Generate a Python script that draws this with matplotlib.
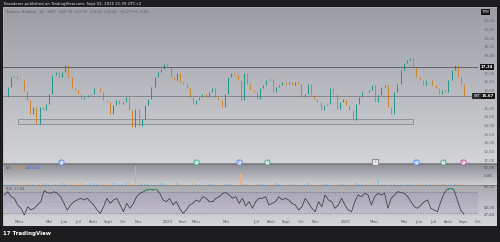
import matplotlib.pyplot as plt
import matplotlib.dates as mdates
import matplotlib.transforms as mtrans
import numpy as np
import pandas as pd
from matplotlib.patches import Rectangle

# weekly closes (TRY)
close = [15.64, 16.20, 16.78, 16.82, 16.69, 16.59, 16.00, 15.44, 14.68, 15.06,
         14.10, 15.06, 14.87, 15.25, 15.83, 16.88, 17.07, 16.78, 17.07, 17.45,
         16.78, 16.12, 16.02, 15.83, 15.54, 15.64, 15.73, 15.83, 16.12, 16.12,
         15.92, 15.44, 15.35, 14.68, 15.16, 15.44, 15.25, 15.35, 15.64, 14.87,
         13.92, 14.97, 13.95, 14.39, 15.16, 15.54, 16.21, 16.78, 17.07, 17.26,
         17.51, 17.36, 16.78, 16.59, 16.98, 16.50, 16.40, 16.12, 15.64, 15.25,
         15.44, 15.64, 15.83, 15.64, 15.92, 16.12, 15.64, 15.44, 15.06, 15.83,
         16.78, 16.98, 16.88, 16.59, 15.44, 16.98, 16.40, 16.02,
         15.92, 15.54, 16.12, 16.31, 16.59, 16.69, 15.92, 16.21, 16.31, 16.50,
         16.40, 16.50, 16.31, 16.50, 16.40, 15.64, 15.83, 16.40, 15.73, 15.54,
         15.35, 14.87, 15.16, 15.25, 16.12, 15.83, 14.97, 15.35, 15.54, 15.16,
         14.87, 14.30, 15.25, 15.64, 15.92, 15.92, 16.02, 16.31, 15.35, 15.73,
         16.21, 16.31, 15.06, 14.68, 15.92, 16.40, 17.17, 17.55, 17.74, 17.84,
         17.36, 16.78, 16.59, 16.31, 16.59, 16.59, 16.31, 16.12, 15.83, 16.02,
         15.92, 16.59, 17.17, 17.45, 16.78, 16.40, 15.67]

volume = [6, 5, 7, 4, 6, 8, 5, 7, 9, 6, 5, 7, 8, 10, 6, 5, 7, 6, 8, 5,
          9, 7, 6, 8, 10, 7, 6, 9, 8, 7, 6, 8, 9, 7, 10, 8, 6, 7, 9, 8,
          7, 100, 8, 9, 7, 6, 8, 7, 9, 10, 8, 7, 6, 8, 9, 7, 6, 5, 7, 8,
          6, 7, 9, 8, 6, 7, 5, 6, 8, 7, 6, 7, 9, 8, 60, 7, 6, 5, 7, 6,
          5, 6, 7, 5, 6, 8, 6, 7, 5, 6, 7, 6, 5, 7, 6, 8, 5, 6, 7, 6,
          5, 7, 6, 8, 7, 6, 5, 7, 6, 7, 8, 6, 5, 7, 6, 9, 8, 25, 7, 6,
          5, 7, 6, 8, 7, 6, 5, 6, 7, 8, 6, 5, 7, 6, 8, 7, 6, 5, 6, 7,
          8, 6, 7, 9, 10]

rsi = [64.3, 70.6, 61.1, 58.0, 45.2, 38.9, 26.2, 42.0, 35.7, 38.9,
       45.2, 51.6, 72.5, 68.7, 67.5, 70.6, 67.5, 61.1, 48.4, 35.7,
       45.2, 51.6, 54.8, 58.0, 54.8, 58.0, 51.6, 45.2, 35.7, 29.4,
       42.0, 58.0, 48.4, 54.8, 58.0, 45.2, 32.5, 48.4, 38.9, 48.4,
       61.1, 67.5, 70.6, 73.8, 75.1, 73.8, 75.1, 67.5, 54.8, 51.6,
       58.0, 45.2, 51.6, 38.9, 29.4, 35.7, 45.2, 48.4, 54.8, 51.6,
       61.1, 58.0, 51.6, 51.6, 58.0, 61.1, 67.5, 68.7, 64.3, 58.0,
       61.1, 48.4, 58.0, 43.3,
       51.6, 38.9, 51.6, 58.0, 58.0, 61.1, 45.2, 48.4, 51.6, 61.1,
       54.8, 58.0, 54.8, 48.4, 45.2, 35.7, 42.0, 58.0, 48.4, 38.9,
       32.5, 51.6, 42.0, 64.3, 54.8, 51.6, 38.9, 45.2, 58.0, 45.2,
       35.7, 32.5, 51.6, 64.3, 61.1, 67.5, 64.3, 45.2, 61.1, 67.5,
       64.3, 67.5, 38.9, 58.0, 64.3, 70.6, 68.7, 67.5, 61.1, 51.6,
       42.0, 38.9, 45.2, 51.6, 54.8, 38.9, 35.7, 32.5, 51.6, 67.5,
       75.1, 77.0, 73.8, 54.8, 35.7, 27.6]

resistance = 17.34
last_price = 15.67
zone_dates = ['2023-02-26', '2025-05-20']
zone_prices = [14.06, 14.35]

events = ['2023-05-27', '2024-02-28', '2024-05-27', '2024-07-24',
          '2025-03-03', '2025-05-26', '2025-07-21', '2025-08-30']
event_letters = ['D', 'E', 'D', 'E', 'E', 'D', 'E', 'S']
event_colors = ['#5b8def', '#3fb58a', '#5b8def', '#3fb58a',
                '#8a8b90', '#5b8def', '#3fb58a', '#d44fa6']

tick_dates = ['2023-03-01', '2023-05-01', '2023-06-01', '2023-07-01', '2023-08-01',
              '2023-09-01', '2023-10-01', '2023-11-01', '2024-01-01', '2024-02-01',
              '2024-03-01', '2024-05-01', '2024-07-01', '2024-08-01', '2024-09-01',
              '2024-10-01', '2024-11-01', '2025-01-01', '2025-03-01', '2025-05-01',
              '2025-06-01', '2025-07-01', '2025-08-01', '2025-09-01', '2025-10-01']
tick_labels = ['Mars', 'Mai', 'Juin', 'Juil', 'Août', 'Sept', 'Oct', 'Nov', '2024', 'Févr',
               'Mars', 'Mai', 'Juil', 'Août', 'Sept', 'Oct', 'Nov', '2025', 'Mars', 'Mai',
               'Juin', 'Juil', 'Août', 'Sept', 'Oct']

W, H = 500, 242
plt.rcParams['font.family'] = ['DejaVu Sans']
fig = plt.figure(figsize=(5, 2.42), dpi=100)
fig.patch.set_facecolor('#1d1d1f')


def box(x0, y0, x1, y1):
    return [x0 / W, 1 - y1 / H, (x1 - x0) / W, (y1 - y0) / H]


def ftext(px, py, s, **kw):
    fig.text(px / W, 1 - py / H, s, **kw)


# backgrounds of the panes (pixel coords)
bg = fig.add_axes(box(3, 7, 497, 226))
bg.axis('off')


def grad(y0, y1, ctop, cbot):
    a = np.array(plt.matplotlib.colors.to_rgb(ctop))
    b = np.array(plt.matplotlib.colors.to_rgb(cbot))
    t = np.linspace(0, 1, 64)[:, None, None]
    img = a * (1 - t) + b * t
    bg.imshow(img, extent=(0, 494, y1, y0), aspect='auto', origin='upper',
              interpolation='bilinear')


grad(7, 163.5, '#9c9ea4', '#d3d4d8')
grad(163.5, 185, '#8b8c92', '#cfd0d4')
grad(185, 216, '#a9a9b0', '#cbcbd1')
grad(216, 226, '#cfd0d4', '#d4d5d9')
bg.axhline(163.5, color='#76777c', lw=0.6)
bg.axhline(185, color='#808187', lw=0.6)
bg.set_xlim(0, 494)
bg.set_ylim(226, 7)
bg.add_patch(Rectangle((0, 7), 494, 219, fill=False, ec='#b5b6ba', lw=0.5))

t0, t1 = mdates.datestr2num('2023-01-27'), mdates.datestr2num('2025-09-30')
dates = mdates.date2num(pd.date_range('2023-01-30', '2025-09-02', periods=len(close)))
rsi_dates = mdates.date2num(pd.date_range('2023-01-30', '2025-09-02', periods=len(rsi)))
c = np.array(close)
o = np.r_[c[0], c[:-1]]
up = c >= o

# price pane
ax = fig.add_axes(box(3, 8, 478, 163.5))
ax.patch.set_alpha(0)
ax.set_xlim(t0, t1)
ax.set_ylim(11.82, 20.73)
for s in ax.spines.values():
    s.set_visible(False)
ax.vlines(dates, np.minimum(o, c), np.maximum(o, c),
          colors=np.where(up, '#23998d', '#d0852f'), lw=0.75)
ax.axhline(resistance, color='#55565b', lw=0.6)
ax.axhline(last_price, color='#707176', lw=0.5)
z0, z1 = mdates.datestr2num(zone_dates[0]), mdates.datestr2num(zone_dates[1])
ax.add_patch(Rectangle((z0, zone_prices[0]), z1 - z0, zone_prices[1] - zone_prices[0],
                       fc='#c0c1c6', ec='#808186', lw=0.5))
yt = [v / 2 for v in range(24, 41) if abs(v / 2 - resistance) > 0.3 and abs(v / 2 - last_price) > 0.3]
ax.yaxis.tick_right()
ax.set_yticks(yt)
ax.set_yticklabels([f'{v:.2f}'.replace('.', ',') for v in yt])
ax.tick_params(axis='y', length=0, pad=4, labelsize=2.8, labelcolor='#6a6b70')
ax.set_xticks([])
tr = mtrans.blended_transform_factory(ax.transAxes, ax.transData)
ax.text(1.006, resistance, '17,34', transform=tr, fontsize=2.8, color='white',
        va='center', ha='left', fontweight='bold',
        bbox=dict(fc='#161616', ec='none', pad=0.6))
ax.text(1.008, last_price, '15,67', transform=tr, fontsize=2.8, color='white',
        va='center', ha='left', fontweight='bold',
        bbox=dict(fc='#161616', ec='none', pad=0.6))
ax.text(0.99, last_price, 'SKT', transform=tr, fontsize=2.6, color='white',
        va='center', ha='left', bbox=dict(fc='#2a2a2c', ec='none', pad=0.6))
ax.text(1.008, 20.5, 'TRY', transform=tr, fontsize=2.8, color='white',
        va='center', ha='left', bbox=dict(fc='#161616', ec='none', pad=0.6))
trb = mtrans.blended_transform_factory(ax.transData, ax.transAxes)
for d, l, col in zip(events, event_letters, event_colors):
    xd = mdates.datestr2num(d)
    mk = 's' if col == '#8a8b90' else 'o'
    ax.scatter([xd], [0.012], s=14, marker=mk, transform=trb, fc='#e9e9ee',
               ec=col, lw=0.7, clip_on=False, zorder=5)
    ax.text(xd, 0.012, l, transform=trb, fontsize=2.2, color=col, ha='center',
            va='center', clip_on=False, zorder=6)

# volume pane
vax = fig.add_axes(box(3, 164, 478, 185))
vax.patch.set_alpha(0)
vax.set_xlim(t0, t1)
vax.set_ylim(0, 110)
for s in vax.spines.values():
    s.set_visible(False)
vax.bar(dates, volume, width=3, color=np.where(up, '#8fc2e2', '#e8b27a'), lw=0)
vax.yaxis.tick_right()
vax.set_yticks([50, 90])
vax.set_yticklabels(['5,0K', '50,0K'])
vax.tick_params(axis='y', length=0, pad=4, labelsize=2.8, labelcolor='#55565b')
vax.set_xticks([])

# rsi pane
rax = fig.add_axes(box(3, 185, 478, 216))
rax.patch.set_alpha(0)
rax.set_xlim(t0, t1)
rax.set_ylim(24.3, 83.3)
for s in rax.spines.values():
    s.set_visible(False)
rax.axhspan(30, 70, color='#7e57c2', alpha=0.1, lw=0)
for lv in (70, 30):
    rax.axhline(lv, color='#6f7077', lw=0.4, ls=(0, (3, 2)))
rax.axhline(50, color='#7f8087', lw=0.3, ls=(0, (1, 2)))
r = np.array(rsi)
rax.plot(rsi_dates, r, color='#3c3a44', lw=0.55)
rax.plot(rsi_dates, np.where(r >= 70, r, np.nan), color='#2f9e62', lw=0.65)
rax.yaxis.tick_right()
rax.set_yticks([40, 80, 27.6])
rax.set_yticklabels(['40,00', '80,00', '27,64'])
rax.tick_params(axis='y', length=0, pad=4, labelsize=2.8, labelcolor='#55565b')
rax.set_xticks(mdates.datestr2num(tick_dates))
rax.set_xticklabels(tick_labels)
rax.tick_params(axis='x', length=0, pad=3.2, labelsize=2.8, labelcolor='#55565b')

# texts
ftext(4, 3.6, 'Karadeniz published on TradingView.com, Sept 02, 2025 21:39 UTC+2',
      fontsize=2.8, color='#e6e6e6', va='center')
ftext(6, 12, 'Sabancı Holding · 1D · BIST   O15,94  H15,97  L15,67  C15,67  −0,27 (−1,71%)',
      fontsize=2.6, color='#5d5e64', va='center')
ftext(6, 168, 'Vol', fontsize=2.6, color='#55565b', va='center')
ftext(13, 168, '28,61K', fontsize=2.6, color='#d98a2e', va='center')
ftext(26, 168, '455,61K', fontsize=2.6, color='#3f6fd8', va='center')
ftext(6, 188.5, 'RSI  27,64', fontsize=2.6, color='#55565b', va='center')
ftext(3, 234, '17 TradingView', fontsize=4, color='white', va='center', fontweight='bold')

fig.savefig('out.png', dpi=100, facecolor=fig.get_facecolor())
